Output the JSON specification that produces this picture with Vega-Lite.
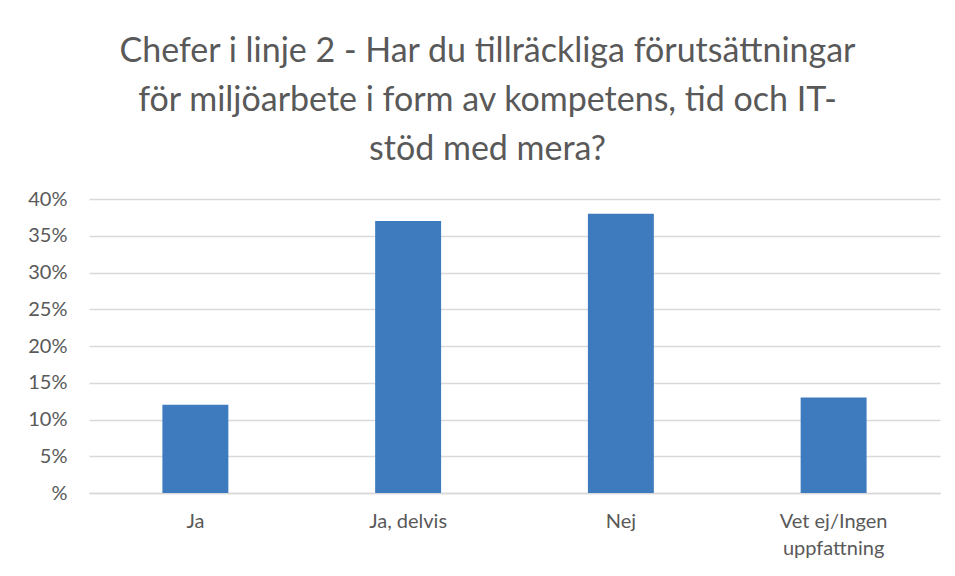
{
  "$schema": "https://vega.github.io/schema/vega-lite/v6.json",
  "width": 851,
  "height": 294,
  "autosize": {"type": "none"},
  "padding": {"left": 89, "top": 199, "right": 15, "bottom": 83},
  "background": "white",
  "title": {
    "text": ["Chefer i linje 2 - Har du tillräckliga förutsättningar", "för miljöarbete i form av kompetens, tid och IT-", "stöd med mera?"],
    "font": "Lato",
    "fontSize": 34,
    "fontWeight": "normal",
    "color": "#595959",
    "lineHeight": 49,
    "anchor": "middle",
    "dx": -27,
    "offset": 22
  },
  "data": {
    "values": [
      {"kategori": "Ja", "andel": 0.12},
      {"kategori": "Ja, delvis", "andel": 0.37},
      {"kategori": "Nej", "andel": 0.38},
      {"kategori": "Vet ej/Ingen uppfattning", "andel": 0.13}
    ]
  },
  "mark": {"type": "bar", "color": "#3E7BBE"},
  "encoding": {
    "x": {
      "field": "kategori",
      "type": "nominal",
      "sort": null,
      "scale": {"paddingInner": 0.69, "paddingOuter": 0.345},
      "axis": {
        "title": null,
        "labelAngle": 0,
        "labelFont": "Lato",
        "labelFontSize": 20,
        "labelColor": "#595959",
        "ticks": false,
        "domainColor": "#d9d9d9",
        "domainWidth": 1.5,
        "labelPadding": 18,
        "labelLineHeight": 27,
        "labelExpr": "datum.value == 'Vet ej/Ingen uppfattning' ? ['Vet ej/Ingen', 'uppfattning'] : datum.value"
      }
    },
    "y": {
      "field": "andel",
      "type": "quantitative",
      "scale": {"domain": [0, 0.4]},
      "axis": {
        "title": null,
        "values": [0, 0.05, 0.1, 0.15, 0.2, 0.25, 0.3, 0.35, 0.4],
        "labelExpr": "datum.value == 0 ? '%' : format(datum.value, '.0%')",
        "domain": false,
        "ticks": false,
        "gridColor": "#d9d9d9",
        "gridWidth": 1.5,
        "labelPadding": 22,
        "labelFont": "Lato",
        "labelFontSize": 20,
        "labelColor": "#595959"
      }
    }
  },
  "config": {"view": {"stroke": null}}
}
